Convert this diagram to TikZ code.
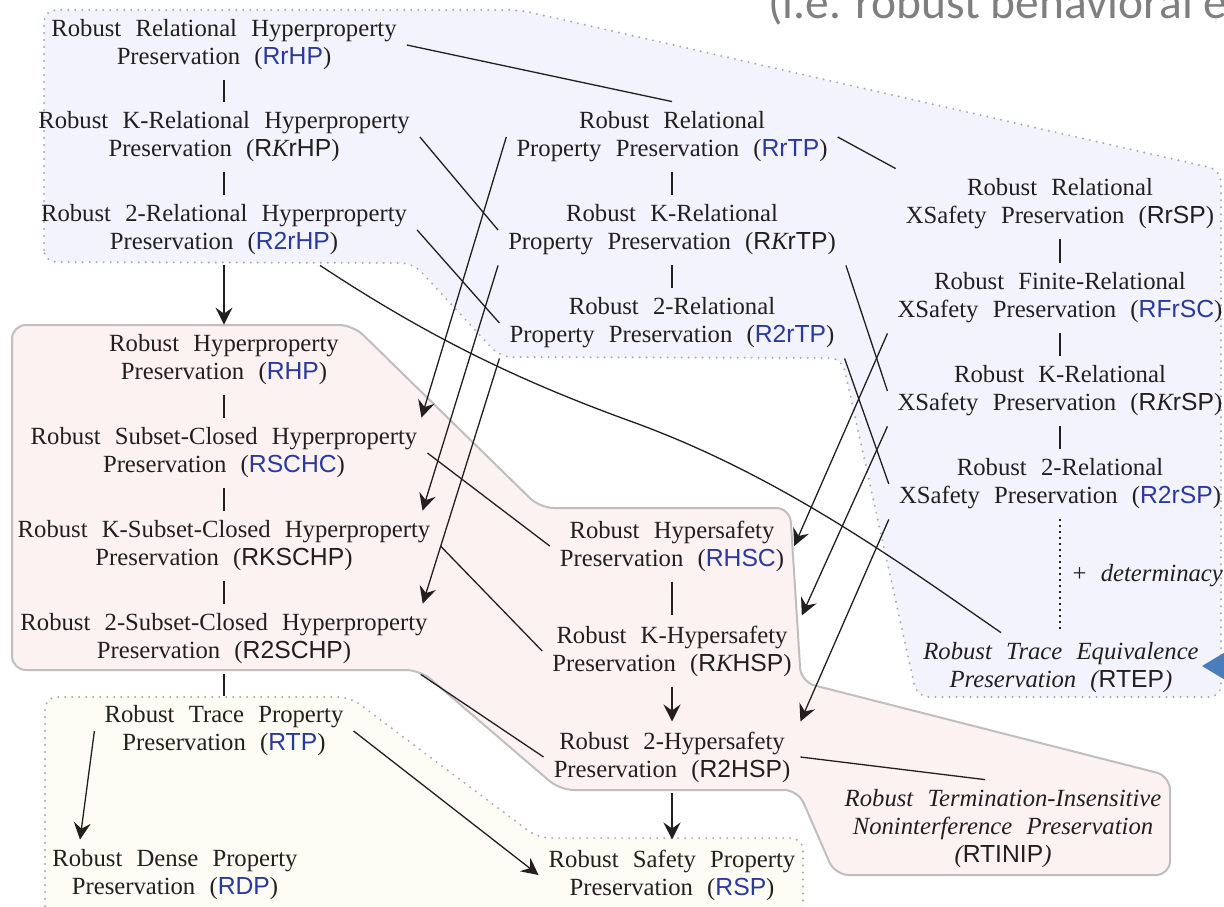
\documentclass[tikz,border=0pt]{standalone}
\usepackage{fontspec}
\setmainfont{Liberation Serif}[WordSpace=2.3]
\newfontfamily\abfont{Liberation Sans}
\newfontfamily\slidefont{Carlito}
\usetikzlibrary{arrows.meta,calc}

\definecolor{abblue}{RGB}{42,58,156}
\definecolor{ink}{RGB}{35,31,32}
\definecolor{hyperfill}{RGB}{243,243,253}
\definecolor{scfill}{RGB}{253,242,242}
\definecolor{tracefill}{RGB}{253,253,245}
\definecolor{rimgray}{RGB}{170,170,172}
\definecolor{solidrim}{RGB}{192,190,190}
\definecolor{calloutblue}{RGB}{74,126,187}
\definecolor{notegray}{RGB}{127,127,127}

% abbreviations are set in sans; the blue ones are highlighted
\newcommand{\ab}[1]{{\abfont\upshape #1}}
\newcommand{\bab}[1]{{\color{abblue}\abfont\upshape #1}}
\newcommand{\kk}{{\normalfont\itshape K}}
\newcommand{\propsize}{\fontsize{24.7}{28}\selectfont}

\begin{document}
\begin{tikzpicture}[x=1pt,y=-1pt,
  prop/.style={align=center, inner xsep=10pt, inner ysep=10pt, text=ink, font=\propsize},
  iprop/.style={prop, font=\propsize\itshape},
  link/.style={draw=ink, line width=1.3pt},
  arr/.style={link, -{Stealth[length=17pt,width=17pt,inset=6pt]}},
  dotrim/.style={draw=rimgray, line width=2.2pt, dash pattern=on 0pt off 7pt, line cap=round, rounded corners=12pt},
  solidregion/.style={draw=solidrim, line width=2pt, rounded corners=14pt}]

\path[use as bounding box] (0,0) rectangle (1224,906);
\clip (0,0) rectangle (1224,906);
\fill[white] (0,0) rectangle (1224,906);

% relational (hyper)property region
\filldraw[dotrim, fill=hyperfill]
  (44,262) -- (44,10) -- (520,10) -- (1221,170) -- (1221,697) -- (917,697)
  -- (842,358) -- (500,357) -- (413,263) -- cycle;

% subset-closed / hypersafety region
\filldraw[solidregion, fill=scfill]
  (12,670) -- (12,325) -- (353,325) -- (540,508) -- (790,508) -- (801,682)
  -- (1170,776) -- (1170,875) -- (835,875) -- (798,790) -- (560,790)
  -- (420,670) -- cycle;

% trace property region
\filldraw[dotrim, fill=tracefill]
  (45,920) -- (45,697) -- (350,697) -- (538,838) -- (803,838) -- (803,920);

% slide note and callout tip
\node[anchor=base west, inner sep=0pt, text=notegray,
      font=\slidefont\fontsize{47.5}{50}\selectfont] (note) at (768,18)
  {(i.e. robust behavioral e};
\fill[calloutblue] (1202,666) -- (1227,651) -- (1227,681) -- cycle;

\begin{scope}[yshift=-3pt]
% relational hyperproperties
\node[prop] (RrHP)  at (224,42)  {Robust Relational Hyperproperty\\Preservation (\bab{RrHP})};
\node[prop] (RKrHP) at (224,134) {Robust K-Relational Hyperproperty\\Preservation (\ab{R\kk rHP})};
\node[prop] (R2rHP) at (224,227) {Robust 2-Relational Hyperproperty\\Preservation (\bab{R2rHP})};

% relational trace properties
\node[prop] (RrTP)  at (672,134) {Robust Relational\\Property Preservation (\bab{RrTP})};
\node[prop] (RKrTP) at (672,227) {Robust K-Relational\\Property Preservation (\ab{R\kk rTP})};
\node[prop] (R2rTP) at (672,320) {Robust 2-Relational\\Property Preservation (\bab{R2rTP})};

% relational safety
\node[prop] (RrSP)  at (1060,201) {Robust Relational\\XSafety Preservation (\ab{RrSP})};
\node[prop] (RFrSC) at (1060,295) {Robust Finite-Relational\\XSafety Preservation (\bab{RFrSC})};
\node[prop] (RKrSP) at (1060,388) {Robust K-Relational\\XSafety Preservation (\ab{R\kk rSP})};
\node[prop] (R2rSP) at (1060,481) {Robust 2-Relational\\XSafety Preservation (\bab{R2rSP})};
\node[iprop] (RTEP) at (1061,665) {Robust Trace Equivalence\\Preservation (\ab{RTEP})};

% hyperproperties
\node[prop] (RHP)    at (224,357) {Robust Hyperproperty\\Preservation (\bab{RHP})};
\node[prop] (RSCHC)  at (224,450) {Robust Subset-Closed Hyperproperty\\Preservation (\bab{RSCHC})};
\node[prop] (RKSCHP) at (224,543) {Robust K-Subset-Closed Hyperproperty\\Preservation (\ab{RKSCHP})};
\node[prop] (R2SCHP) at (224,636) {Robust 2-Subset-Closed Hyperproperty\\Preservation (\ab{R2SCHP})};

% hypersafety
\node[prop] (RHSC)  at (672,543) {Robust Hypersafety\\Preservation (\bab{RHSC})};
\node[prop] (RKHSP) at (672,648) {Robust K-Hypersafety\\Preservation (\ab{R\kk HSP})};
\node[prop] (R2HSP) at (672,754) {Robust 2-Hypersafety\\Preservation (\ab{R2HSP})};
\node[iprop] (RTINIP) at (1003,826) {Robust Termination-Insensitive\\Noninterference Preservation\\(\ab{RTINIP})};

% trace properties
\node[prop] (RTP) at (224,728) {Robust Trace Property\\Preservation (\bab{RTP})};
\node[prop] (RDP) at (175,872) {Robust Dense Property\\Preservation (\bab{RDP})};
\node[prop] (RSP) at (672,872) {Robust Safety Property\\Preservation (\bab{RSP})};

% vertical chains
\draw[link] (RrHP) -- (RKrHP);
\draw[link] (RKrHP) -- (R2rHP);
\draw[arr]  (R2rHP) -- (RHP);
\draw[link] (RHP) -- (RSCHC);
\draw[link] (RSCHC) -- (RKSCHP);
\draw[link] (RKSCHP) -- (R2SCHP);
\draw[link] (R2SCHP) -- (RTP);
\draw[link] (RrTP) -- (RKrTP);
\draw[link] (RKrTP) -- (R2rTP);
\draw[link] (RrSP) -- (RFrSC);
\draw[link] (RFrSC) -- (RKrSP);
\draw[link] (RKrSP) -- (R2rSP);
\draw[link, dash pattern=on 1.5pt off 4.5pt] (R2rSP.south) -- (R2rSP.south |- RTEP.north)
  node[midway, anchor=west, inner sep=0pt, xshift=12pt, text=ink, font=\propsize]
  {+ \textit{determinacy}};
\draw[link] (RHSC) -- (RKHSP);
\draw[arr]  (RKHSP) -- (R2HSP);
\draw[arr]  (R2HSP) -- (RSP);

% trace properties
\draw[arr] (RTP.west) -- ([xshift=-95pt]RDP.north);
\draw[arr] (RTP.east) -- (RSP.west);

% across the relational layers
\draw[link] (RrHP.east) -- (RrTP.north);
\draw[link] (RrTP.east) -- (RrSP.north west);
\draw[link] (RKrHP.east) -- (RKrTP.west);
\draw[link] (R2rHP.east) -- (R2rTP.west);
\draw[link] (RKrTP.south east) -- (RKrSP.west);
\draw[link] (R2rTP.south east) -- (R2rSP.west);

% relational properties down to hyperproperties and hypersafety
\draw[arr] (RrTP.west) -- ([xshift=-6pt]RSCHC.north east);
\draw[arr] (RKrTP.south west) -- ([xshift=-18pt]RKSCHP.north east);
\draw[arr] (R2rTP.south west) -- ([xshift=-15pt]R2SCHP.north east);
\draw[arr] (RFrSC.south west) -- (RHSC.east);
\draw[arr] (RKrSP.south west) -- (RKHSP.north east);
\draw[arr] (R2rSP.south west) -- (R2HSP.north east);

% subset-closed to hypersafety
\draw[link] (RSCHC.east) -- (RHSC.west);
\draw[link] (RKSCHP.east) -- (RKHSP.west);
\draw[link] ([xshift=-17pt]R2SCHP.south east) -- (R2HSP.west);
\draw[link] (R2HSP.east) -- ([xshift=-18pt]RTINIP.north);

% 2-relational hyperproperties to trace equivalence
\draw[link] ([xshift=96pt]R2rHP.south) .. controls (430,335) and (520,378) .. (630,418)
  .. controls (780,472) and (900,560) .. ([xshift=-60pt]RTEP.north);
\end{scope}
\end{tikzpicture}
\end{document}
